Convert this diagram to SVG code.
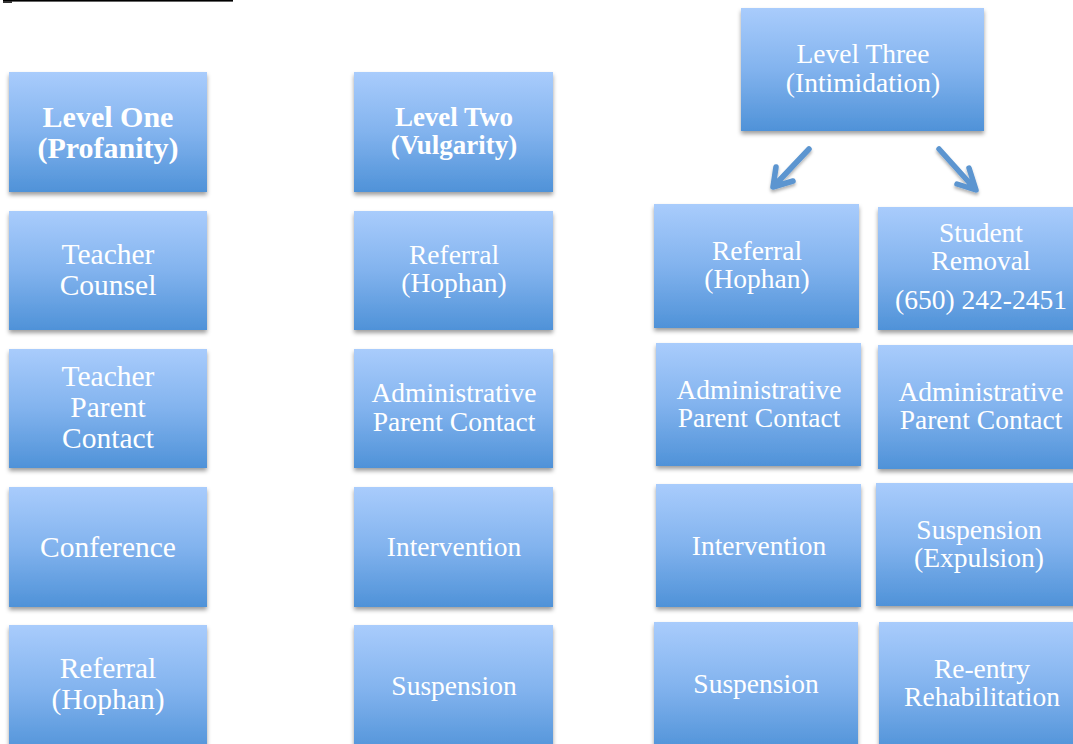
<svg xmlns="http://www.w3.org/2000/svg" width="1073" height="744" viewBox="0 0 1073 744">
<defs>
<linearGradient id="g" x1="0" y1="0" x2="0" y2="1">
<stop offset="0" stop-color="#a9ccfc"/>
<stop offset="0.5" stop-color="#82b3ee"/>
<stop offset="1" stop-color="#4f92d8"/>
</linearGradient>
<filter id="sh" x="-10%" y="-10%" width="125%" height="130%">
<feDropShadow dx="0" dy="3" stdDeviation="2.2" flood-color="#000" flood-opacity="0.38"/>
</filter>
<filter id="ash" x="-30%" y="-30%" width="160%" height="160%">
<feDropShadow dx="0" dy="2.5" stdDeviation="1.5" flood-color="#000" flood-opacity="0.3"/>
</filter>
</defs>
<style>
.b{fill:url(#g);filter:url(#sh)}
text{font-family:"Liberation Serif","Times New Roman",serif;fill:#fff;text-anchor:middle}
.s30{font-size:29.5px}
.s28{font-size:27.5px}
.bd1{font-size:30px;font-weight:bold}
.bd2{font-size:27px;font-weight:bold}
.arr{fill:none;stroke:#5b95d0;stroke-width:5.5;stroke-linecap:round;stroke-linejoin:round;filter:url(#ash)}
</style>
<rect width="1073" height="744" fill="#fff"/>
<rect x="3" y="0" width="230" height="1.6" fill="#000"/>
<rect x="3" y="1" width="9" height="2" fill="#333"/>

<g id="level-one"><rect class="b" x="9" y="72" width="198" height="120"/>
<text class="bd1" x="108" y="127">Level One</text><text class="bd1" x="108" y="158">(Profanity)</text></g>
<g id="teacher-counsel"><rect class="b" x="9" y="211" width="198" height="119"/>
<text class="s30" x="108" y="264">Teacher</text><text class="s30" x="108" y="295">Counsel</text></g>
<g id="teacher-parent-contact"><rect class="b" x="9" y="349" width="198" height="119"/>
<text class="s30" x="108" y="386">Teacher</text><text class="s30" x="108" y="417">Parent</text><text class="s30" x="108" y="448">Contact</text></g>
<g id="conference"><rect class="b" x="9" y="487" width="198" height="120"/>
<text class="s30" x="108" y="557">Conference</text></g>
<g id="referral-1"><rect class="b" x="9" y="625" width="198" height="130"/>
<text class="s30" x="108" y="678">Referral</text><text class="s30" x="108" y="709">(Hophan)</text></g>

<g id="level-two"><rect class="b" x="354" y="72" width="199" height="120"/>
<text class="bd2" x="454" y="126">Level Two</text><text class="bd2" x="454" y="154">(Vulgarity)</text></g>
<g id="referral-2"><rect class="b" x="354" y="211" width="199" height="119"/>
<text class="s28" x="454" y="264">Referral</text><text class="s28" x="454" y="292">(Hophan)</text></g>
<g id="admin-contact-2"><rect class="b" x="354" y="349" width="199" height="119"/>
<text class="s28" x="454" y="402">Administrative</text><text class="s28" x="454" y="431">Parent Contact</text></g>
<g id="intervention-2"><rect class="b" x="354" y="487" width="199" height="120"/>
<text class="s28" x="454" y="556">Intervention</text></g>
<g id="suspension-2"><rect class="b" x="354" y="625" width="199" height="130"/>
<text class="s28" x="454" y="695">Suspension</text></g>

<g id="level-three"><rect class="b" x="741" y="8" width="243" height="123"/>
<text class="s28" x="863" y="63">Level Three</text><text class="s28" x="863" y="92">(Intimidation)</text></g>
<g id="referral-3"><rect class="b" x="654" y="204" width="205" height="124"/>
<text class="s28" x="757" y="260">Referral</text><text class="s28" x="757" y="288">(Hophan)</text></g>
<g id="admin-contact-3"><rect class="b" x="656" y="343" width="205" height="123"/>
<text class="s28" x="759" y="399">Administrative</text><text class="s28" x="759" y="427">Parent Contact</text></g>
<g id="intervention-3"><rect class="b" x="656" y="484" width="205" height="123"/>
<text class="s28" x="759" y="555">Intervention</text></g>
<g id="suspension-3"><rect class="b" x="654" y="622" width="204" height="130"/>
<text class="s28" x="756" y="693">Suspension</text></g>
<g id="student-removal"><rect class="b" x="878" y="207" width="210" height="123"/>
<text class="s28" x="981" y="242">Student</text><text class="s28" x="981" y="270">Removal</text><text class="s28" x="981" y="309">(650) 242-2451</text></g>
<g id="admin-contact-4"><rect class="b" x="878" y="345" width="210" height="124"/>
<text class="s28" x="981" y="401">Administrative</text><text class="s28" x="981" y="429">Parent Contact</text></g>
<g id="suspension-expulsion"><rect class="b" x="876" y="483" width="212" height="123"/>
<text class="s28" x="979" y="539">Suspension</text><text class="s28" x="979" y="567">(Expulsion)</text></g>
<g id="reentry"><rect class="b" x="879" y="622" width="210" height="130"/>
<text class="s28" x="982" y="678">Re-entry</text><text class="s28" x="982" y="706">Rehabilitation</text></g>

<g id="connectors">
<path class="arr" d="M809,149 L774,186 M776,167 L773,187 L793,181"/>
<path class="arr" d="M939,149 L975,189 M969,168 L976,190 L957,184"/>
</g>
</svg>
